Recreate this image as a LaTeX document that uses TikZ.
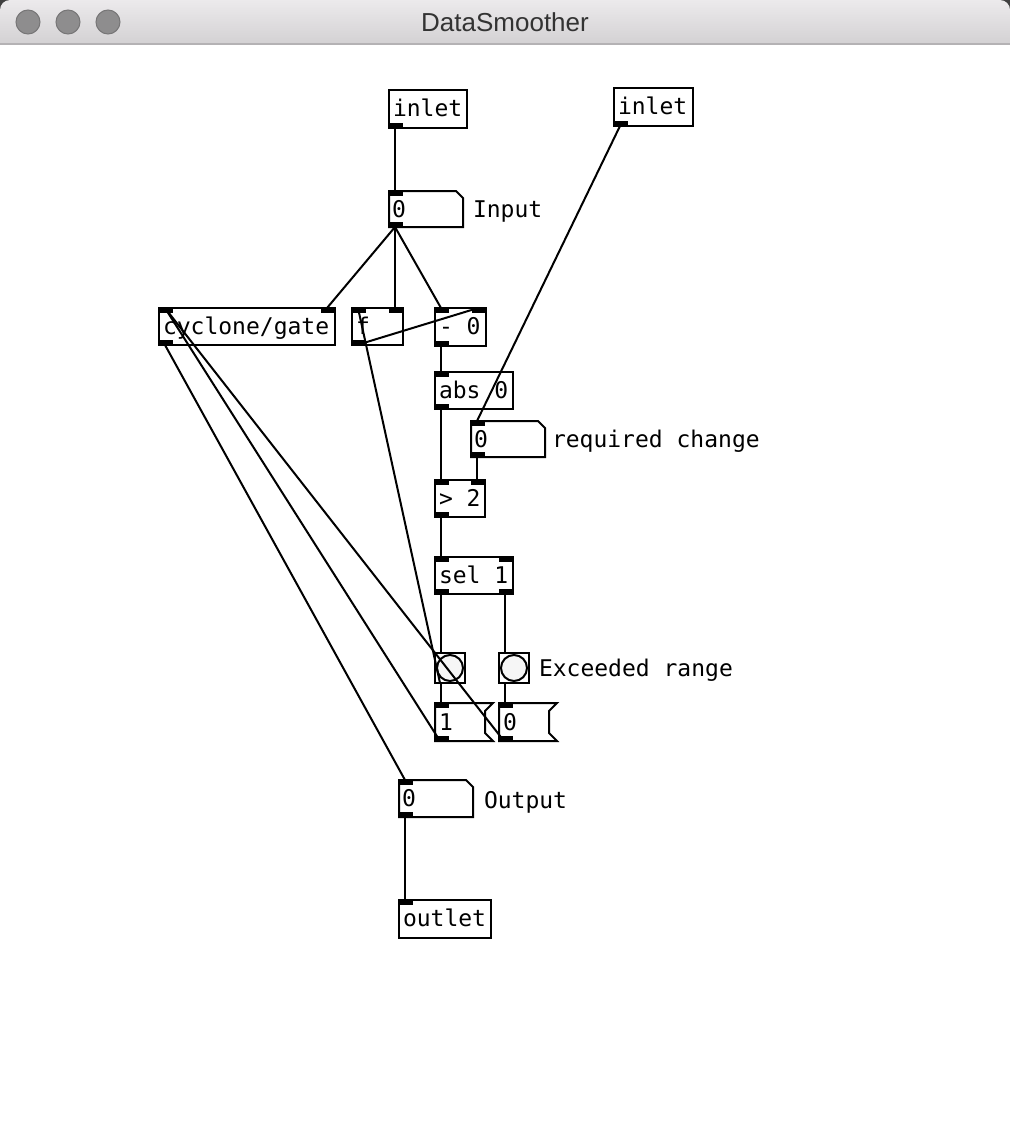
\documentclass[tikz,border=0pt]{standalone}
\usepackage{fontspec}
\newfontfamily\pdfont{DejaVu Sans Mono}
\newfontfamily\titlefont{Liberation Sans}
\definecolor{barTop}{HTML}{ECEAEC}
\definecolor{barBot}{HTML}{D3D1D3}
\definecolor{barLine}{HTML}{B4B2B4}
\definecolor{dotFill}{HTML}{8E8D8E}
\definecolor{dotLine}{HTML}{777677}
\definecolor{titleInk}{HTML}{333333}
\definecolor{bangFill}{HTML}{F6F6F6}
\newcommand\pdil[1]{\fill (#1.north west) rectangle ++(14,5);}
\newcommand\pdir[1]{\fill (#1.north east) rectangle ++(-14,5);}
\newcommand\pdol[1]{\fill (#1.south west) rectangle ++(14,-5);}
\newcommand\pdor[1]{\fill (#1.south east) rectangle ++(-14,-5);}
\newcommand\pdnum[1]{\draw[pdedge] (#1.north west) -- ([xshift=-7pt]#1.north east) -- ([yshift=-7pt]#1.north east) -- (#1.south east) -- (#1.south west) -- cycle;}
\newcommand\pdmsg[1]{\draw[pdedge] (#1.north west) -- (#1.north east) -- ([xshift=-8pt,yshift=-8pt]#1.north east) -- ([xshift=-8pt,yshift=8pt]#1.south east) -- (#1.south east) -- (#1.south west) -- cycle;}
\begin{document}
\begin{tikzpicture}[x=1pt,y=-1pt,
  pdn/.style={rectangle,inner sep=0pt,outer sep=0pt,anchor=north west,draw=none},
  pdobj/.style={pdn,draw=black,line width=2pt},
  pdedge/.style={draw=black,line width=2pt,line join=miter},
  pdtxt/.style={anchor=base west,inner sep=0pt,outer sep=0pt,font=\pdfont\fontsize{23}{23}\selectfont},
  pdline/.style={draw=black,line width=2pt},
  dot/.style={fill=dotFill,draw=dotLine,line width=1pt}]
\useasboundingbox (0,0) rectangle (1010,1138);
% window
\fill[black!75] (0,0) rectangle (14,14);
\fill[black!75] (996,0) rectangle (1010,14);
\fill[white] (0,44) rectangle (1010,1138);
\shade[top color=barTop,bottom color=barBot] (0,44) [rounded corners=10pt] -- (0,0) -- (1010,0) [sharp corners] -- (1010,44) -- cycle;
\draw[barLine,line width=1.5pt] (0,44) -- (1010,44);
\node[dot,circle,minimum size=24pt,inner sep=0pt] (d1) at (28,22) {};
\node[dot,circle,minimum size=24pt,inner sep=0pt] (d2) at (68,22) {};
\node[dot,circle,minimum size=24pt,inner sep=0pt] (d3) at (108,22) {};
\node[anchor=base,inner sep=0pt,text=titleInk,font=\titlefont\fontsize{26}{26}\selectfont] (title) at (505,31) {DataSmoother};

% boxes
\node[pdobj,minimum width=78pt,minimum height=38pt] (inA) at (389,90) {};
\node[pdobj,minimum width=79pt,minimum height=38pt] (inB) at (614,88) {};
\node[pdn,minimum width=74pt,minimum height=36pt] (numIn) at (389,191) {};
\node[pdobj,minimum width=176pt,minimum height=37pt] (gate) at (159,308) {};
\node[pdobj,minimum width=51pt,minimum height=37pt] (fobj) at (352,308) {};
\node[pdobj,minimum width=51pt,minimum height=38pt] (minus) at (435,308) {};
\node[pdobj,minimum width=78pt,minimum height=37pt] (absb) at (435,372) {};
\node[pdn,minimum width=74pt,minimum height=36pt] (numReq) at (471,421) {};
\node[pdobj,minimum width=50pt,minimum height=37pt] (gt) at (435,480) {};
\node[pdobj,minimum width=78pt,minimum height=37pt] (sel) at (435,557) {};
\node[pdobj,minimum width=30pt,minimum height=30pt] (bangA) at (435,653) {};
\node[pdobj,minimum width=30pt,minimum height=30pt] (bangB) at (499,653) {};
\node[pdn,minimum width=58pt,minimum height=38pt] (msgA) at (435,703) {};
\node[pdn,minimum width=58pt,minimum height=38pt] (msgB) at (499,703) {};
\node[pdn,minimum width=74pt,minimum height=37pt] (numOut) at (399,780) {};
\node[pdobj,minimum width=92pt,minimum height=38pt] (outl) at (399,900) {};

\pdnum{numIn}\pdnum{numReq}\pdnum{numOut}
\pdmsg{msgA}\pdmsg{msgB}
\draw[pdedge,fill=bangFill] (bangA.center) circle (13pt);
\draw[pdedge,fill=bangFill] (bangB.center) circle (13pt);

% inlets / outlets
\pdol{inA}\pdol{inB}
\pdil{numIn}\pdol{numIn}
\pdil{gate}\pdir{gate}\pdol{gate}
\pdil{fobj}\pdir{fobj}\pdol{fobj}
\pdil{minus}\pdir{minus}\pdol{minus}
\pdil{absb}\pdol{absb}
\pdil{numReq}\pdol{numReq}
\pdil{gt}\pdir{gt}\pdol{gt}
\pdil{sel}\pdir{sel}\pdol{sel}\pdor{sel}
\pdil{msgA}\pdol{msgA}
\pdil{msgB}\pdol{msgB}
\pdil{numOut}\pdol{numOut}
\pdil{outl}

% texts
\node[pdtxt] (tInA) at ([xshift=4pt,yshift=-26pt]inA.north west) {inlet};
\node[pdtxt] (tInB) at ([xshift=4pt,yshift=-26pt]inB.north west) {inlet};
\node[pdtxt] (tNumIn) at ([xshift=3pt,yshift=-26pt]numIn.north west) {0};
\node[pdtxt] (lInput) at (473,217) {Input};
\node[pdtxt] (tGate) at ([xshift=4pt,yshift=-26pt]gate.north west) {cyclone/gate};
\node[pdtxt] (tF) at ([xshift=4pt,yshift=-26pt]fobj.north west) {f};
\node[pdtxt] (tMinus) at ([xshift=4pt,yshift=-26pt]minus.north west) {- 0};
\node[pdtxt] (tAbs) at ([xshift=4pt,yshift=-26pt]absb.north west) {abs 0};
\node[pdtxt] (tNumReq) at ([xshift=3pt,yshift=-26pt]numReq.north west) {0};
\node[pdtxt] (lReq) at (552,447) {required change};
\node[pdtxt] (tGt) at ([xshift=4pt,yshift=-26pt]gt.north west) {> 2};
\node[pdtxt] (tSel) at ([xshift=4pt,yshift=-26pt]sel.north west) {sel 1};
\node[pdtxt] (lExc) at (539,676) {Exceeded range};
\node[pdtxt] (tMsgA) at ([xshift=4pt,yshift=-27pt]msgA.north west) {1};
\node[pdtxt] (tMsgB) at ([xshift=4pt,yshift=-27pt]msgB.north west) {0};
\node[pdtxt] (tNumOut) at ([xshift=3pt,yshift=-26pt]numOut.north west) {0};
\node[pdtxt] (lOut) at (484,808) {Output};
\node[pdtxt] (tOutl) at ([xshift=4pt,yshift=-26pt]outl.north west) {outlet};

% connections
\draw[pdline] ([xshift=6pt]inA.south west) -- ([xshift=6pt]numIn.north west);
\draw[pdline] ([xshift=6pt]inB.south west) -- ([xshift=6pt]numReq.north west);
\draw[pdline] ([xshift=6pt]numIn.south west) -- ([xshift=-8pt]gate.north east);
\draw[pdline] ([xshift=6pt]numIn.south west) -- ([xshift=-8pt]fobj.north east);
\draw[pdline] ([xshift=6pt]numIn.south west) -- ([xshift=6pt]minus.north west);
\draw[pdline] ([xshift=5pt]fobj.south west) -- ([xshift=-8pt]minus.north east);
\draw[pdline] ([xshift=5pt]bangA.south west) -- ([xshift=6pt]fobj.north west);
\draw[pdline] ([xshift=6pt]gate.south west) -- ([xshift=6pt]numOut.north west);
\draw[pdline] ([xshift=5pt]msgA.south west) -- ([xshift=6pt]gate.north west);
\draw[pdline] ([xshift=5pt]msgB.south west) -- ([xshift=6pt]gate.north west);
\draw[pdline] ([xshift=6pt]minus.south west) -- ([xshift=6pt]absb.north west);
\draw[pdline] ([xshift=6pt]absb.south west) -- ([xshift=6pt]gt.north west);
\draw[pdline] ([xshift=6pt]numReq.south west) -- ([xshift=-8pt]gt.north east);
\draw[pdline] ([xshift=6pt]gt.south west) -- ([xshift=6pt]sel.north west);
\draw[pdline] ([xshift=6pt]sel.south west) -- ([xshift=6pt]bangA.north west);
\draw[pdline] ([xshift=-8pt]sel.south east) -- ([xshift=6pt]bangB.north west);
\draw[pdline] ([xshift=6pt]bangA.south west) -- ([xshift=6pt]msgA.north west);
\draw[pdline] ([xshift=6pt]bangB.south west) -- ([xshift=6pt]msgB.north west);
\draw[pdline] ([xshift=6pt]numOut.south west) -- ([xshift=6pt]outl.north west);
\end{tikzpicture}
\end{document}
